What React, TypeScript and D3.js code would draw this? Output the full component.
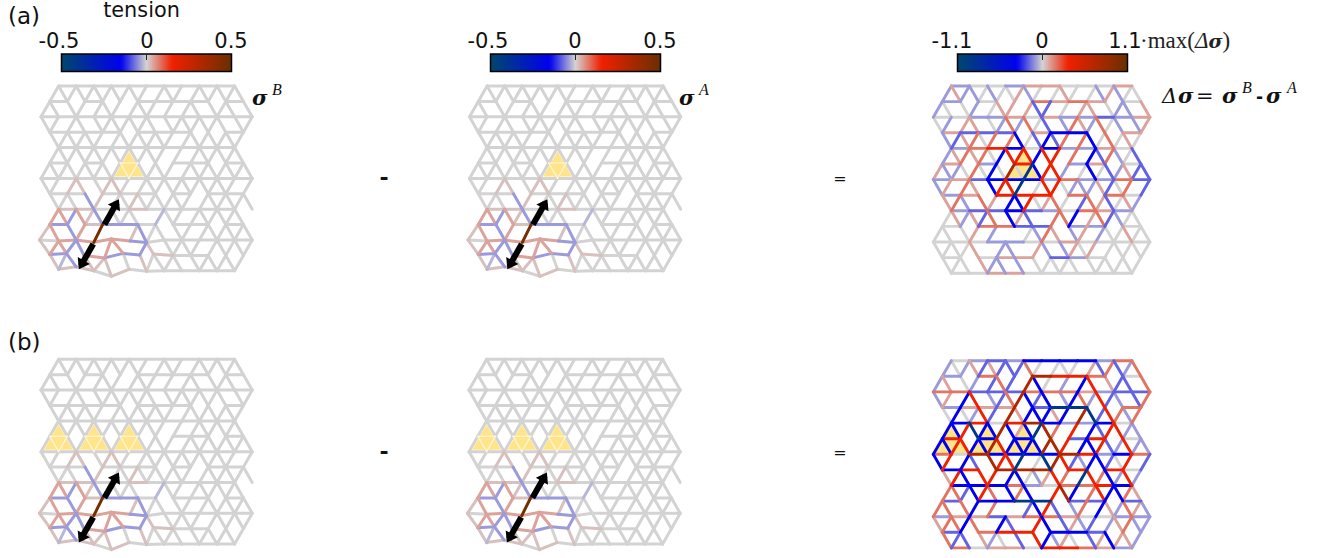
import * as d3 from "d3";

// lattice edges, row by row: "." = no bond, 0 = unstressed, y/a-d compression, z/e-i tension
const rowStart = [2, 1, 0, 1, 2, 1, 0, 1, 2, 1, 0, 1, 2];

// (b) difference panel
const diffBH = [
  "0abaccccaf", "a.f..hggf.0", "ffbbbfffeabb", "aeee.bdd..f", "cg0ghcaac0", "g.c.c..bg.0",
  "f0hcccchgacf", "cg.hhh.g.g0", "cccfa0ffgc", "b.ccdd.bb.b", "aeebeffe00aa", "b.fgg.ccb..", "f0ee0ggfea",
];
const diffBZ = [
  ".a0aebebbbf0.000.ebfbaf.", "ae.0a.bfb.hc0.a.cg.ebb.f", "ae.cg.abfhcbc.acfagba.bf", ".0c0agb.hecccec.hdbgfaf.",
  ".ccgdcchcecdhf.g.cbggaa.", "ccggcchgcccchhg.ccgbagaa", "cg.cb.hggd.0dhgbaccb0g.b", ".egc.gg.cc0aegf.dgfcaga.",
  ".ffbcgf.cfc..ghc.fgccfe.", "ff.fc.f...bcgb.af.ceafea", "effcf..cb..gc.beab.aefaa", ".fbb.ea0.b.gcae0.beceea.",
];

// (a) difference panel
const diffAH = [
  "a00aee000e", "a.0..fefe.0", "00aae0eaabae", "ebbb.ecc..e", "afgc0caae0", "e.a.g..ae.0",
  "aebcccafaafb", "ae.ggg.f.f0", "abbcba0fea", "0.ffbb.aa.0", "000aa00e0000", "0.0ee.ba0..", "00ee000000",
];
const diffAZ = [
  ".aeaa0a00ea0.0e0.0aea00.", "a0.0a.0ee.ebb.0.ee.0aa.e", "0a.ee.0afaf0b.afeaf0a.ae", ".abef0f.fc0bcbf.fc0f0e0.",
  ".aefef0cgggcgg.f.cbfa0b.", "eaa0f0c0h0dcgga.0c0baebb", "ae.fe.cggd.0gg0aaaeb0f.b", ".efa.fe.ccg0ef0.bfeb0ea.",
  ".0eaebf.ceb..ffc.efba00.", "00.0e.a...0afe.ae.a00e00", "0000e..aa..ea.ae0e.00000", ".000.eaa.a.00000.000000.",
];

// stress maps sigma^A / sigma^B: only the rows around the dipole carry stress
const stressLowH = ["zz00z00000", "a.zaa0.00.0", "0eeeea000000", "a.eaa.z00..", "zz0z000000"];
const stressLowZ = [
  "00.zz.0zz0.00000000000.0", ".000.az.00z000000.000000", ".eeaeza.000..y00.000000.",
  "ze.ae.i...za00.00.000000", "zeeaa..ee..az.0000.00000", ".zya.zzz.0.z0000.000000.",
];

// node shifts around the dipole in the stress maps: row, column, dx, dy
const nodeShifts = [
  [10, 0, -1.5, 0], [10, 2, 0, 1], [10, 6, 0, 2.3], [10, 8, 0, -1], [10, 10, 1, 1], [10, 12, 0, 2.5],
  [11, 1, 0, -1], [11, 3, -1, -2], [11, 5, -1, 0], [11, 7, 2, 2.5], [11, 9, 3, -2], [11, 11, 2, -0.5], [11, 13, -2, -1.3],
  [12, 2, 0, -1.5], [12, 4, 0, -4], [12, 8, 0, 5.5], [12, 10, 0, -1.5], [12, 12, 0, 0.5],
];

const levelValues: Record<string, number> = {
  "0": 0, y: -0.04, a: -0.08, b: -0.16, c: -0.3, d: -0.85, z: 0.03, e: 0.08, f: 0.16, g: 0.3, h: 0.65, i: 0.95,
};
const colorDomain = [-1, -0.3, 0, 0.3, 1];
const colorRange = ["#00476b", "#0000f0", "#d3d3d3", "#f02000", "#6a2f00"];

const patchesA = [10];
const patchesB = [2, 6, 10];
const dipole = { top: [8.85, 7.35], bottom: [4.3, 11.9] };

const colorScale = d3.scaleLinear<string>().domain(colorDomain).range(colorRange).interpolate(d3.interpolateRgb);
const grayOut = (s: string) => s.replace(/[^.]/g, "0");
const stressH = [...diffBH.slice(0, 8).map(grayOut), ...stressLowH];
const stressZ = [...diffBZ.slice(0, 6).map(grayOut), ...stressLowZ];

type Edge = { a: [number, number]; b: [number, number]; level: string };

function buildEdges(hRows: string[], zRows: string[]): Edge[] {
  const out: Edge[] = [];
  hRows.forEach((row, r) => {
    [...row].forEach((c, j) => {
      if (c === ".") return;
      const i = rowStart[r] + 2 * j;
      out.push({ a: [r, i], b: [r, i + 2], level: c });
    });
  });
  zRows.forEach((row, r) => {
    [...row].forEach((c, k) => {
      if (c === ".") return;
      if ((k + r) % 2 === 0) out.push({ a: [r, k], b: [r + 1, k + 1], level: c });
      else out.push({ a: [r + 1, k], b: [r, k + 1], level: c });
    });
  });
  return out.sort((p, q) => Math.abs(levelValues[p.level]) - Math.abs(levelValues[q.level]));
}

type NetworkProps = {
  x0: number;
  y0: number;
  a: number;
  rowH: number;
  width: number;
  edges: Edge[];
  patches: number[];
  stress?: boolean;
};

const Network = ({ x0, y0, a, rowH, width, edges, patches, stress }: NetworkProps) => {
  const x = d3.scaleLinear().domain([0, 24]).range([x0, x0 + 12 * a]);
  const y = d3.scaleLinear().domain([0, 12]).range([y0, y0 + 12 * rowH]);
  const pos = ([r, i]: [number, number]): [number, number] => {
    const s = stress ? nodeShifts.find((n) => n[0] === r && n[1] === i) : undefined;
    return [x(i) + (s ? s[2] : 0), y(r) + (s ? s[3] : 0)];
  };
  const patchPath = (i: number) => {
    const pts = [[x(i), y(4)], [x(i - 2), y(6)], [x(i + 2), y(6)]];
    const cx = x(i);
    const cy = (y(4) + 2 * y(6)) / 3;
    const k = stress ? 0.82 : 1;
    return "M" + pts.map((p) => `${cx + (p[0] - cx) * k},${cy + (p[1] - cy) * k}`).join("L") + "Z";
  };
  const inPatch = (e: Edge, i: number) => {
    const mx = (e.a[1] + e.b[1]) / 2;
    const mr = (e.a[0] + e.b[0]) / 2;
    return mr > 4 && mr < 6 && Math.abs(mx - i) < mr - 4 - 0.1;
  };
  const line = (e: Edge, stroke: string, w: number, key: string) => {
    const [x1, y1] = pos(e.a);
    const [x2, y2] = pos(e.b);
    return <line key={key} x1={x1} y1={y1} x2={x2} y2={y2} stroke={stroke} strokeWidth={w} strokeLinecap="round" />;
  };

  const patchShapes = patches.map((i) => <path key={"p" + i} d={patchPath(i)} fill="#ffe48a" />);

  // arrows of the force dipole
  const [tx, ty] = [x(dipole.top[0]), y(dipole.top[1])];
  const [bx, by] = [x(dipole.bottom[0]), y(dipole.bottom[1])];
  const along = d3.interpolate([tx, ty], [bx, by]);
  const ux = (bx - tx) / Math.hypot(bx - tx, by - ty);
  const uy = (by - ty) / Math.hypot(bx - tx, by - ty);
  const head = (px: number, py: number, d: number) => {
    const cx = px + d * 10 * ux;
    const cy = py + d * 10 * uy;
    return `M${px},${py}L${cx - 7 * uy},${cy + 7 * ux}L${cx + 7 * uy},${cy - 7 * ux}Z`;
  };

  return (
    <g>
      {!stress && patchShapes}
      {edges.map((e, n) => line(e, colorScale(levelValues[e.level]), width, "e" + n))}
      {stress && patchShapes}
      {stress &&
        edges
          .filter((e) => patches.some((i) => inPatch(e, i)))
          .map((e, n) => line(e, "#fff4cc", 1.5, "w" + n))}
      {stress && (
        <g>
          <line x1={along(0.05)[0]} y1={along(0.05)[1]} x2={along(0.36)[0]} y2={along(0.36)[1]} stroke="#000" strokeWidth={6} />
          <line x1={along(0.64)[0]} y1={along(0.64)[1]} x2={along(0.95)[0]} y2={along(0.95)[1]} stroke="#000" strokeWidth={6} />
          <path d={head(tx, ty, 1)} fill="#000" />
          <path d={head(bx, by, -1)} fill="#000" />
        </g>
      )}
    </g>
  );
};

const sans = "'DejaVu Sans', sans-serif";
const serif = "'Liberation Serif', serif";
const mathBold = "'DejaVu Serif', serif";
const barStops = d3.range(0, 1.001, 0.02);

type ColorbarProps = { x: number; id: string; labels: [string, string, string]; labelX: [number, number, number] };

const Colorbar = ({ x, id, labels, labelX }: ColorbarProps) => (
  <g>
    <defs>
      <linearGradient id={id}>
        {barStops.map((t) => (
          <stop key={t} offset={t} stopColor={colorScale(t * 2 - 1)} />
        ))}
      </linearGradient>
    </defs>
    <rect x={x} y={54} width={170} height={17.5} fill={`url(#${id})`} stroke="#000" strokeWidth={1.5} />
    <line x1={x + 85} x2={x + 85} y1={54} y2={60} stroke="#222" strokeWidth={1} />
    {labels.map((l, n) => (
      <text key={n} x={labelX[n]} y={48} textAnchor="middle" fontFamily={sans} fontSize={21} fill="#111">
        {l}
      </text>
    ))}
  </g>
);

const edgesStress = buildEdges(stressH, stressZ);
const edgesDiffA = buildEdges(diffAH, diffAZ);
const edgesDiffB = buildEdges(diffBH, diffBZ);

const Sigma = ({ x, size = 21 }: { x?: number; size?: number }) => (
  <tspan x={x} fontFamily={mathBold} fontWeight="bold" fontStyle="italic" fontSize={size}>
    σ
  </tspan>
);

export default function App() {
  return (
    <svg width={1324} height={558} style={{ position: "absolute", left: 0, top: 0, background: "#fff" }}>
      <text x={8} y={24} fontFamily={sans} fontSize={23} fill="#111">(a)</text>
      <text x={8} y={350} fontFamily={sans} fontSize={23} fill="#111">(b)</text>
      <text x={141.5} y={17} textAnchor="middle" fontFamily={sans} fontSize={20.8} fill="#111">tension</text>

      <Colorbar x={61.5} id="cb1" labels={["-0.5", "0", "0.5"]} labelX={[59, 147, 231]} />
      <Colorbar x={490.5} id="cb2" labels={["-0.5", "0", "0.5"]} labelX={[488, 575, 660]} />
      <Colorbar x={957.5} id="cb3" labels={["-1.1", "0", "1.1"]} labelX={[952, 1042, 1125]} />
      <text x={1140} y={48} fontFamily={serif} fontSize={23} fill="#222">
        ·max(<tspan fontStyle="italic">Δ</tspan><Sigma size={19} />)
      </text>

      <Network x0={41} y0={86} a={17.6} rowH={15.4} width={3} edges={edgesStress} patches={patchesA} stress />
      <Network x0={469.5} y0={86} a={17.6} rowH={15.4} width={3} edges={edgesStress} patches={patchesA} stress />
      <Network x0={933.3} y0={86} a={18.05} rowH={15.6} width={2.9} edges={edgesDiffA} patches={patchesA} />
      <Network x0={41} y0={359.3} a={17.6} rowH={15.4} width={3} edges={edgesStress} patches={patchesB} stress />
      <Network x0={469} y0={359.3} a={17.6} rowH={15.4} width={3} edges={edgesStress} patches={patchesB} stress />
      <Network x0={933.3} y0={360.7} a={18.05} rowH={15.6} width={2.9} edges={edgesDiffB} patches={patchesB} />

      <text y={105} fontFamily={serif} fontSize={16} fontStyle="italic" fill="#111">
        <Sigma x={252} /><tspan x={272} y={95}>B</tspan>
      </text>
      <text y={105} fontFamily={serif} fontSize={16} fontStyle="italic" fill="#111">
        <Sigma x={679} /><tspan x={699} y={95}>A</tspan>
      </text>
      <text y={103} fontFamily={serif} fontSize={16} fill="#111">
        <tspan x={1162} fontFamily={mathBold} fontSize={21} fontStyle="italic">Δ</tspan>
        <Sigma x={1178} />
        <tspan x={1196} fontFamily={mathBold} fontSize={21}>=</tspan>
        <Sigma x={1222} />
        <tspan x={1242} y={93} fontStyle="italic">B</tspan>
        <tspan x={1256} y={103} fontFamily={sans} fontWeight="bold" fontSize={17}>-</tspan>
        <Sigma x={1266} />
        <tspan x={1287} y={93} fontStyle="italic">A</tspan>
      </text>

      {[185, 459].map((y) => (
        <text key={y} x={384} y={y} textAnchor="middle" fontFamily={sans} fontWeight="bold" fontSize={22} fill="#111">-</text>
      ))}
      {[184, 458].map((y) => (
        <text key={y} x={840} y={y} textAnchor="middle" fontFamily={sans} fontSize={16} fill="#111">=</text>
      ))}
    </svg>
  );
}
